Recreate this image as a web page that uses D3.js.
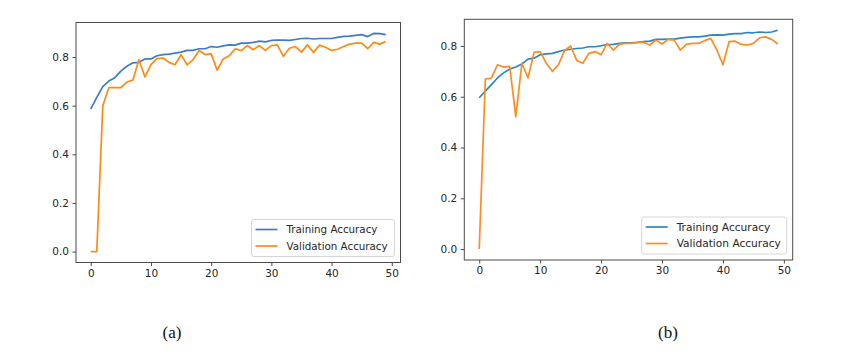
<!DOCTYPE html>
<html>
<head>
<meta charset="utf-8">
<script src="https://cdn.jsdelivr.net/npm/d3@7"></script>
<style>
  body { margin: 0; background: #fff; }
  svg { display: block; }
  .tick text { font-family: "DejaVu Sans", sans-serif; fill: #262626; }
</style>
</head>
<body>
<svg id="chart" width="848" height="355"></svg>
<script>
// epochs 0..49
const epochs = d3.range(0, 50);

// panel (a)
const trainAccA = [0.586, 0.634, 0.678, 0.701, 0.715, 0.742, 0.762, 0.776, 0.778, 0.792,
  0.792, 0.805, 0.810, 0.812, 0.816, 0.820, 0.827, 0.827, 0.834, 0.834,
  0.843, 0.840, 0.846, 0.850, 0.849, 0.857, 0.857, 0.860, 0.865, 0.862,
  0.868, 0.870, 0.869, 0.868, 0.872, 0.876, 0.877, 0.874, 0.876, 0.876,
  0.876, 0.881, 0.885, 0.886, 0.889, 0.892, 0.884, 0.897, 0.896, 0.892];
const valAccA = [0.0, 0.0, 0.600, 0.674, 0.674, 0.674, 0.697, 0.705, 0.789, 0.718,
  0.769, 0.793, 0.796, 0.778, 0.768, 0.810, 0.768, 0.789, 0.827, 0.810,
  0.814, 0.746, 0.792, 0.805, 0.834, 0.826, 0.847, 0.830, 0.847, 0.827,
  0.847, 0.850, 0.803, 0.836, 0.843, 0.820, 0.850, 0.819, 0.849, 0.840,
  0.827, 0.832, 0.843, 0.853, 0.857, 0.857, 0.834, 0.860, 0.853, 0.864];

// panel (b)
const trainAccB = [0.596, 0.622, 0.648, 0.674, 0.694, 0.709, 0.717, 0.729, 0.748, 0.752,
  0.765, 0.769, 0.771, 0.778, 0.784, 0.787, 0.790, 0.792, 0.797, 0.797,
  0.801, 0.805, 0.806, 0.810, 0.812, 0.812, 0.814, 0.817, 0.819, 0.826,
  0.826, 0.827, 0.827, 0.831, 0.834, 0.836, 0.836, 0.839, 0.843, 0.844,
  0.843, 0.847, 0.849, 0.849, 0.853, 0.852, 0.855, 0.853, 0.855, 0.862];
const valAccB = [0.0, 0.670, 0.674, 0.726, 0.717, 0.720, 0.522, 0.732, 0.674, 0.775,
  0.778, 0.732, 0.700, 0.726, 0.782, 0.800, 0.743, 0.732, 0.771, 0.778,
  0.765, 0.810, 0.784, 0.806, 0.810, 0.810, 0.814, 0.814, 0.804, 0.823,
  0.808, 0.826, 0.823, 0.784, 0.806, 0.810, 0.810, 0.821, 0.830, 0.784,
  0.726, 0.817, 0.819, 0.806, 0.804, 0.810, 0.832, 0.836, 0.826, 0.808];

const xTicks = [0, 10, 20, 30, 40, 50];
const yTicks = [0.0, 0.2, 0.4, 0.6, 0.8];
const seriesNames = ["Training Accuracy", "Validation Accuracy"];
const panelLabels = ["(a)", "(b)"];

const svg = d3.select("#chart");

const panels = [
  { train: trainAccA, val: valAccA, left: 76, right: 400.5, top: 22.5, bottom: 262.5,
    blue: "#3f7acb", orange: "#ff8a12", fs: 10.3, legW: 143, label: panelLabels[0], labelX: 172 },
  { train: trainAccB, val: valAccB, left: 464.3, right: 792.7, top: 19.3, bottom: 260,
    blue: "#2c86c6", orange: "#ff8c20", fs: 10.6, legW: 145, label: panelLabels[1], labelX: 668 }
];

function drawPanel(p) {
  const g = svg.append("g");
  const n = epochs.length - 1;
  const x = d3.scaleLinear()
    .domain([-0.05 * n, n + 0.05 * n])
    .range([p.left, p.right]);
  const all = p.train.concat(p.val);
  const lo = d3.min(all), hi = d3.max(all), pad = (hi - lo) * 0.05;
  const y = d3.scaleLinear()
    .domain([lo - pad, hi + pad])
    .range([p.bottom, p.top]);

  const line = data => d3.line()
    .x((d, i) => x(epochs[i]))
    .y(d => y(d))(data);

  g.append("path")
    .attr("d", line(p.train))
    .attr("fill", "none")
    .attr("stroke", p.blue)
    .attr("stroke-width", 1.7)
    .attr("stroke-linejoin", "round");
  g.append("path")
    .attr("d", line(p.val))
    .attr("fill", "none")
    .attr("stroke", p.orange)
    .attr("stroke-width", 1.7)
    .attr("stroke-linejoin", "round");

  // frame
  g.append("rect")
    .attr("x", p.left).attr("y", p.top)
    .attr("width", p.right - p.left).attr("height", p.bottom - p.top)
    .attr("fill", "none")
    .attr("stroke", "#4a4a4a")
    .attr("stroke-width", 1);

  const xAxis = g.append("g")
    .attr("transform", `translate(0,${p.bottom})`)
    .call(d3.axisBottom(x).tickValues(xTicks).tickSize(3.5).tickPadding(3.5).tickSizeOuter(0));
  const yAxis = g.append("g")
    .attr("transform", `translate(${p.left},0)`)
    .call(d3.axisLeft(y).tickValues(yTicks).tickFormat(d3.format(".1f")).tickSize(3.5).tickPadding(3.5).tickSizeOuter(0));
  [xAxis, yAxis].forEach(a => {
    a.select(".domain").remove();
    a.selectAll(".tick line").attr("stroke", "#4a4a4a");
    a.selectAll(".tick text").style("font-size", "10.5px");
  });

  // legend
  const lx = p.right - 6 - p.legW, ly = p.bottom - 6 - 37;
  const leg = g.append("g").attr("transform", `translate(${lx},${ly})`);
  leg.append("rect")
    .attr("width", p.legW).attr("height", 37)
    .attr("rx", 2.5)
    .attr("fill", "#fff").attr("fill-opacity", 0.8)
    .attr("stroke", "#d6d6d6");
  [p.blue, p.orange].forEach((c, i) => {
    const yy = 10 + i * 16.5;
    leg.append("line")
      .attr("x1", 4).attr("x2", 26).attr("y1", yy).attr("y2", yy)
      .attr("stroke", c).attr("stroke-width", 1.7);
    leg.append("text")
      .attr("x", 35).attr("y", yy).attr("dy", "0.35em")
      .attr("font-family", "DejaVu Sans, sans-serif")
      .attr("font-size", p.fs)
      .attr("fill", "#262626")
      .text(seriesNames[i]);
  });

  svg.append("text")
    .attr("x", p.labelX).attr("y", 338)
    .attr("text-anchor", "middle")
    .attr("font-family", "Liberation Serif, serif")
    .attr("font-size", 17)
    .attr("fill", "#111")
    .text(p.label);
}

panels.forEach(drawPanel);
</script>
</body>
</html>
